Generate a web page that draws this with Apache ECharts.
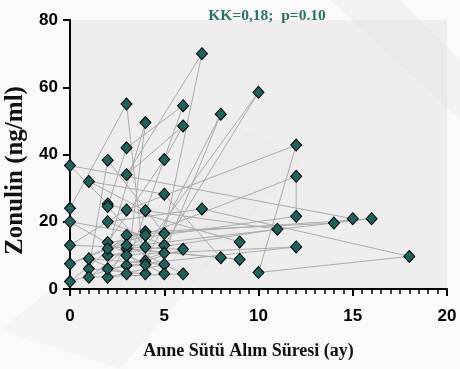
<!DOCTYPE html>
<html>
<head>
<meta charset="utf-8">
<script src="https://cdn.jsdelivr.net/npm/echarts@6/dist/echarts.min.js"></script>
<style>
html,body{margin:0;padding:0;background:#fafafa;}
#c{width:460px;height:369px;}
</style>
</head>
<body>
<div id="c"></div>
<script>
// Duration of breast-milk intake (months), in data order (points are connected in this order)
const months = [0,3,4,1,2,5,7,3,6,5,2,12,12,0,4,14,15,0,2,9,9,3,8,5,1,4,11,2,12,3,6,3,2,4,10,5,2,7,18,10,12,3,0,6,4,8,5,0,3,16,2,4,3,1,5,2,3,6,1,4,0,4,2,3,5];
// Zonulin (ng/ml)
const zonulin = [24,55,4.5,6,38.3,16.5,70,34,48.5,38.5,13.8,21.6,33.5,7.5,17,19.6,20.9,36.7,25.3,14,8.8,12,9.3,28.2,32,23.3,17.8,10,12.5,7,54.5,42,24.5,12.5,58.5,13,20,23.8,9.7,4.9,42.8,23.5,13,11.8,8.3,52,10.7,2.2,16,20.9,12,49.5,4.5,9,7.3,3.5,13,4.5,3.5,16,20,7.2,6,10,4.5];
const xTicks = [0,5,10,15,20];
const yTicks = [0,20,40,60,80];
const titleText = 'KK=0,18;  p=0.10';
const xName = 'Anne Sütü Alım Süresi (ay)';
const yName = 'Zonulin (ng/ml)';

const pts = months.map((m,i)=>[m, zonulin[i]]);
const chart = echarts.init(document.getElementById('c'), null, {renderer:'canvas'});
const lblFont = {fontFamily:'Liberation Sans, Arial, sans-serif',fontWeight:'bold',fontSize:17,color:'#000'};
chart.setOption({
  animation:false,
  backgroundColor:'#fafafa',
  graphic:[
    {type:'polygon',silent:true,z:-10,shape:{points:[[0,330],[120,369],[300,160],[250,130]]},style:{fill:'rgba(0,0,0,0.025)'}},
    {type:'polygon',silent:true,z:-10,shape:{points:[[330,0],[400,0],[460,60],[460,120]]},style:{fill:'rgba(0,0,0,0.03)'}}
  ],
  title:{text:titleText,left:262,top:3,textAlign:'center',
    textStyle:{fontFamily:'Liberation Serif',fontWeight:'bold',fontSize:15.5,color:'#2b7268'}},
  grid:{left:70,right:13,top:20,bottom:80,outerBoundsMode:'none',containLabel:false,show:true,backgroundColor:'rgba(225,225,225,0.5)',borderWidth:0},
  xAxis:{type:'value',min:xTicks[0],max:xTicks[xTicks.length-1],interval:5,
    name:xName,nameLocation:'middle',nameGap:53,
    nameTextStyle:{fontFamily:'Liberation Serif',fontWeight:'bold',fontSize:18,color:'#111',padding:[0,20,0,0]},
    axisLine:{show:true,lineStyle:{color:'#000',width:2}},
    axisTick:{show:true,length:7,lineStyle:{color:'#000',width:2}},
    minorTick:{show:true,splitNumber:10,length:5,lineStyle:{color:'#000',width:1.5}},
    splitLine:{show:false},
    axisLabel:Object.assign({margin:19},lblFont)},
  yAxis:{type:'value',min:yTicks[0],max:yTicks[yTicks.length-1],interval:20,
    name:yName,nameLocation:'middle',nameGap:42,nameRotate:90,
    nameTextStyle:{fontFamily:'Liberation Serif',fontWeight:'bold',fontSize:25,color:'#111',padding:[0,32,0,0]},
    axisLine:{show:true,lineStyle:{color:'#000',width:2}},
    axisTick:{show:true,length:7,lineStyle:{color:'#000',width:2}},
    splitLine:{show:false},
    axisLabel:Object.assign({margin:12},lblFont)},
  series:[{
    type:'line',data:pts,showAllSymbol:true,symbol:'diamond',symbolSize:[11,12],
    lineStyle:{color:'#ababab',width:1},
    itemStyle:{color:'#1d625d',borderColor:'#000',borderWidth:1},
    z:3
  }]
});
</script>
</body>
</html>
